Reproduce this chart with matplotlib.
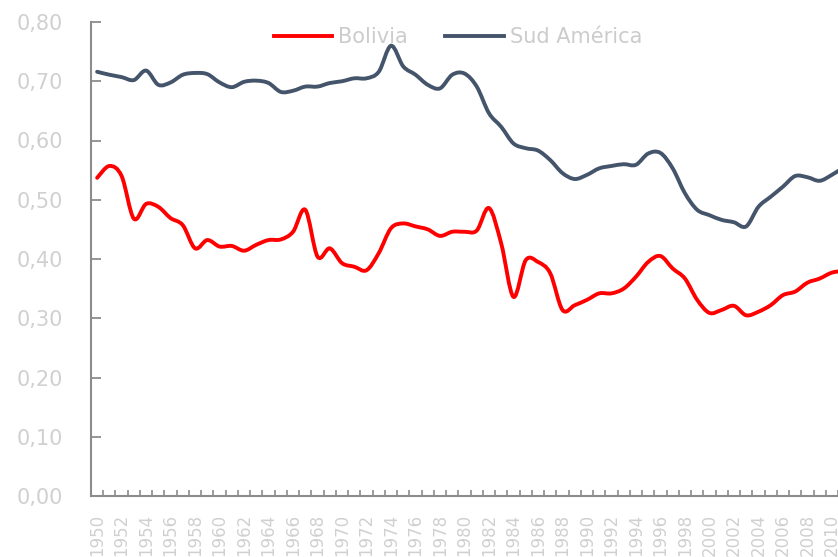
import matplotlib.pyplot as plt
import numpy as np
from matplotlib.path import Path
from matplotlib.patches import PathPatch
from matplotlib.lines import Line2D

# yearly values (2011 is only partly visible at the right edge)
years = list(range(1950, 2012))

bolivia = [0.537, 0.557, 0.540, 0.468, 0.493, 0.488, 0.469, 0.457, 0.418, 0.432,
           0.421, 0.422, 0.414, 0.424, 0.432, 0.433, 0.446, 0.483, 0.404, 0.418,
           0.393, 0.387, 0.381, 0.410, 0.452, 0.460, 0.455, 0.450, 0.439, 0.446,
           0.446, 0.448, 0.486, 0.426, 0.336, 0.398, 0.395, 0.376, 0.314, 0.322,
           0.331, 0.342, 0.342, 0.350, 0.370, 0.395, 0.405, 0.384, 0.367, 0.331,
           0.309, 0.314, 0.321, 0.305, 0.311, 0.322, 0.339, 0.345, 0.360, 0.367,
           0.377, 0.380]

sud_america = [0.716, 0.711, 0.707, 0.702, 0.718, 0.694, 0.698, 0.711, 0.714, 0.712,
               0.698, 0.690, 0.699, 0.701, 0.697, 0.682, 0.684, 0.691, 0.691, 0.697,
               0.700, 0.705, 0.705, 0.716, 0.760, 0.725, 0.711, 0.694, 0.688, 0.711,
               0.713, 0.691, 0.646, 0.623, 0.595, 0.587, 0.583, 0.567, 0.545, 0.535,
               0.542, 0.553, 0.557, 0.560, 0.559, 0.578, 0.579, 0.553, 0.511, 0.483,
               0.474, 0.466, 0.462, 0.455, 0.488, 0.505, 0.522, 0.540, 0.538, 0.532,
               0.542, 0.555]

y_ticks = [0.0, 0.1, 0.2, 0.3, 0.4, 0.5, 0.6, 0.7, 0.8]
y_labels = ["0,00", "0,10", "0,20", "0,30", "0,40", "0,50", "0,60", "0,70", "0,80"]

label_grey = "#D0D0D0"
axis_grey = "#8C8C8C"


def smooth_line(ax, x, y, color, lw):
    # Excel-style "smoothed line": cubic Bezier segments through every data point
    p = np.column_stack([x, y]).astype(float)
    ext = np.vstack([p[0], p, p[-1]])
    verts = [p[0]]
    codes = [Path.MOVETO]
    for i in range(len(p) - 1):
        c1 = ext[i + 1] + (ext[i + 2] - ext[i]) / 6.0
        c2 = ext[i + 2] - (ext[i + 3] - ext[i + 1]) / 6.0
        verts += [c1, c2, p[i + 1]]
        codes += [Path.CURVE4] * 3
    patch = PathPatch(Path(verts, codes), facecolor="none", edgecolor=color,
                      lw=lw, joinstyle="round", capstyle="round")
    ax.add_patch(patch)


plt.rcParams['font.family'] = ['DejaVu Sans']

fig = plt.figure(figsize=(8.38, 5.57), dpi=100)
# the plot area runs past the right edge of the picture, like the cropped original
ax = fig.add_axes([91 / 838, 61 / 557, 747 / 838, 474 / 557])

smooth_line(ax, years, bolivia, "#FF0000", 2.8)
smooth_line(ax, years, sud_america, "#44546A", 2.8)

ax.set_xlim(1949.5, 2010.5)
ax.set_ylim(0, 0.8)

for s in ["top", "right"]:
    ax.spines[s].set_visible(False)
for s in ["left", "bottom"]:
    ax.spines[s].set_color(axis_grey)
    ax.spines[s].set_linewidth(1.5)

ax.set_yticks(y_ticks)
ax.set_yticklabels(y_labels)
ax.tick_params(axis="y", direction="in", length=7, width=1.3, color=axis_grey,
               labelsize=15, labelcolor=label_grey, pad=20)

# category ticks sit between the years, labels every second year
ax.set_xticks(np.arange(1949.5, 2011, 1.0))
ax.set_xticklabels([])
ax.set_xticks(years[::2], labels=[str(y) for y in years[::2]], minor=True)
ax.tick_params(axis="x", which="major", direction="in", length=4, width=1.2,
               color=axis_grey)
ax.tick_params(axis="x", which="minor", length=0, labelsize=12,
               labelcolor=label_grey, labelrotation=90, pad=13)

handles = [Line2D([], [], color="#FF0000", lw=2.8),
           Line2D([], [], color="#44546A", lw=2.8)]
leg = ax.legend(handles, ["Bolivia", "Sud América"], loc="center",
                bbox_to_anchor=(458 / 838, 1 - 37 / 557),
                bbox_transform=fig.transFigure, ncol=2, frameon=False,
                fontsize=15, handlelength=2.8, handletextpad=0.3,
                columnspacing=1.8)
for t in leg.get_texts():
    t.set_color("#CCCCCC")

fig.savefig("out.png", dpi=100)
